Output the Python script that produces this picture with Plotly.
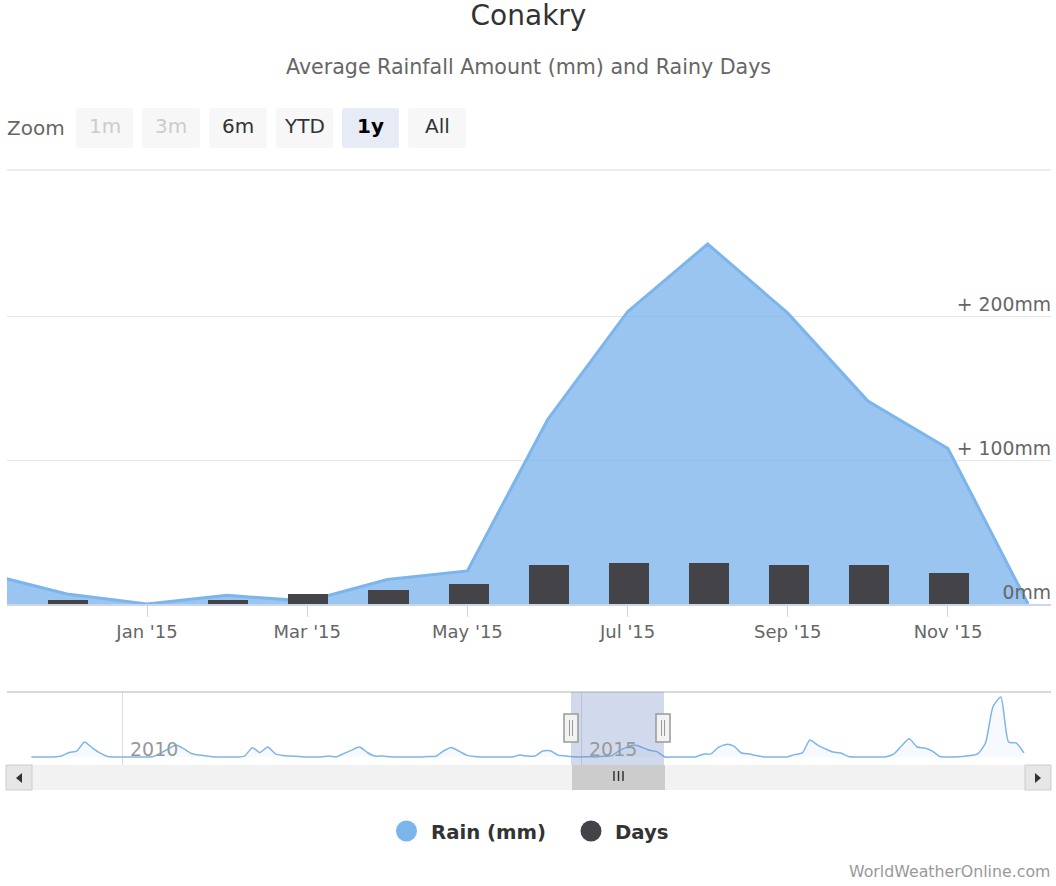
import plotly.graph_objects as go

# ---- data ----
months = ["Nov '14", "Dec '14", "Jan '15", "Feb '15", "Mar '15", "Apr '15", "May '15",
          "Jun '15", "Jul '15", "Aug '15", "Sep '15", "Oct '15", "Nov '15", "Dec '15"]
rain_mm = [21, 7, 0, 6, 2, 17, 23, 128, 203, 250, 202, 141, 108, 0]
rainy_days = [0, 2, 0, 2, 5, 7, 10, 19, 20, 20, 19, 19, 15, 0]
tick_months = ["Jan '15", "Mar '15", "May '15", "Jul '15", "Sep '15", "Nov '15"]
rain_ticks = [0, 100, 200]
rain_tick_labels = ["0mm", "+ 100mm", "+ 200mm"]

nav_2009 = [0, 0, 0, 0, 20, 95, 125, 315, 190, 85, 10, 0]
nav_2010 = [0, 0, 0, 0, 10, 85, 170, 250, 170, 75, 40, 20]
nav_2011 = [0, 0, 0, 0, 20, 195, 95, 210, 65, 30, 20, 10]
nav_2012 = [0, 0, 0, 20, 5, 75, 145, 210, 95, 20, 20, 5]
nav_2013 = [0, 0, 0, 0, 10, 15, 125, 200, 125, 40, 10, 0]
nav_2014 = [0, 0, 0, 0, 40, 20, 20, 125, 130, 40, 21, 7]
nav_2015 = [0, 6, 2, 17, 23, 128, 203, 250, 202, 141, 108, 0]
nav_2016 = [0, 0, 0, 0, 60, 65, 200, 265, 230, 85, 65, 30]
nav_2017 = [0, 0, 0, 0, 50, 85, 355, 250, 170, 105, 85, 10]
nav_2018 = [0, 0, 0, 0, 5, 65, 230, 385, 210, 190, 125, 10]
nav_2019 = [0, 0, 10, 30, 65, 295, 1060, 1260, 315, 295, 85]
nav_years = [2009, 2010, 2011, 2012, 2013, 2014, 2015, 2016, 2017, 2018, 2019]
nav_series = [nav_2009, nav_2010, nav_2011, nav_2012, nav_2013, nav_2014,
              nav_2015, nav_2016, nav_2017, nav_2018, nav_2019]
zoom_buttons = ["1m", "3m", "6m", "YTD", "1y", "All"]

W, H = 1056, 886
FONT = "DejaVu Sans"


def px(x):
    return x / W


def py(y):
    return 1 - y / H


nav_dates, nav_values = [], []
for yr, vals in zip(nav_years, nav_series):
    for m, v in enumerate(vals):
        nav_dates.append(f"{yr}-{m + 1:02d}-01")
        nav_values.append(v)

fig = go.Figure()
fig.add_trace(go.Scatter(
    x=months, y=rain_mm, mode="lines", name="Rain (mm)", fill="tozeroy",
    fillcolor="rgba(124,181,236,0.78)", line=dict(color="#7cb5ec", width=3),
    xaxis="x", yaxis="y", showlegend=False))
fig.add_trace(go.Bar(
    x=months, y=rainy_days, name="Days", marker=dict(color="#434348", line=dict(width=0)),
    width=0.5, offset=-0.235, xaxis="x", yaxis="y3", showlegend=False))
fig.add_trace(go.Scatter(
    x=nav_dates, y=nav_values, mode="lines", name="Rain navigator", fill="tozeroy",
    fillcolor="rgba(124,181,236,0.07)", line=dict(color="#7cb5ec", width=1.5, shape="spline", smoothing=0.6),
    xaxis="x2", yaxis="y2", showlegend=False))


def rrect(x0, y0, x1, y1, fill, r=3, line=None, lw=0):
    p = (f"M {px(x0 + r)} {py(y0)} L {px(x1 - r)} {py(y0)} Q {px(x1)} {py(y0)} {px(x1)} {py(y0 + r)} "
         f"L {px(x1)} {py(y1 - r)} Q {px(x1)} {py(y1)} {px(x1 - r)} {py(y1)} "
         f"L {px(x0 + r)} {py(y1)} Q {px(x0)} {py(y1)} {px(x0)} {py(y1 - r)} "
         f"L {px(x0)} {py(y0 + r)} Q {px(x0)} {py(y0)} {px(x0 + r)} {py(y0)} Z")
    return dict(type="path", path=p, xref="paper", yref="paper", fillcolor=fill, layer="above",
                line=dict(color=line or fill, width=lw))


def rect(x0, y0, x1, y1, fill, line=None, lw=0, layer="above"):
    return dict(type="rect", xref="paper", yref="paper", x0=px(x0), x1=px(x1), y0=py(y1), y1=py(y0),
                fillcolor=fill, layer=layer, line=dict(color=line or fill, width=lw))


def seg(x0, y0, x1, y1, color, w=1):
    return dict(type="line", xref="paper", yref="paper", x0=px(x0), x1=px(x1), y0=py(y0), y1=py(y1),
                layer="above", line=dict(color=color, width=w))


def tri(pts, color):
    p = "M " + " L ".join(f"{px(a)} {py(b)}" for a, b in pts) + " Z"
    return dict(type="path", path=p, xref="paper", yref="paper", fillcolor=color,
                layer="above", line=dict(color=color, width=0))


def text(x, y, s, size, color, anchor="left", bold=False):
    return dict(x=px(x), y=py(y), xref="paper", yref="paper", text=s, showarrow=False,
                xanchor=anchor, yanchor="middle", xshift=0, borderpad=0,
                font=dict(family=FONT, size=size, color=color, weight="bold" if bold else "normal"))


shapes = []
annots = []

# subtitle, range selector
annots.append(text(528.5, 67, "Average Rainfall Amount (mm) and Rainy Days", 20.6, "#666666", "center"))
annots.append(text(6, 128, "Zoom", 20, "#666666"))
btn_x = [(76, 133), (142, 200), (209, 267), (276, 333), (342, 399), (408, 466)]
for (a, b), lab in zip(btn_x, zoom_buttons):
    sel = lab == "1y"
    dis = lab in ("1m", "3m")
    shapes.append(rrect(a, 108, b, 148, "#e6ebf5" if sel else "#f7f7f7"))
    annots.append(text((a + b) / 2, 126, lab, 20, "#cccccc" if dis else ("#000000" if sel else "#333333"),
                       "center", bold=sel))

# top rule of plot and navigator
shapes.append(seg(7, 170, 1051, 170, "#e6e6e6", 1.5))
shapes.append(seg(7, 692, 1051, 692, "#cccccc", 1.5))

# navigator selection
shapes.append(rect(571, 692, 664, 765, "rgba(102,133,194,0.3)"))
# scrollbar
shapes.append(rect(32, 765, 1025, 790, "#f2f2f2"))
shapes.append(rect(572, 765, 665, 790, "#cccccc"))
for xx in (614, 618.5, 623):
    shapes.append(seg(xx, 771, xx, 781, "#333333", 1.5))
shapes.append(rect(6, 765, 32, 790, "#e6e6e6", "#cccccc", 1))
shapes.append(rect(1025, 765, 1051, 790, "#e6e6e6", "#cccccc", 1))
shapes.append(tri([(22, 773), (22, 783), (16, 778)], "#333333"))
shapes.append(tri([(1035, 773), (1035, 783), (1041, 778)], "#333333"))
# navigator handles
for c in (571, 663):
    shapes.append(rect(c - 7, 714, c + 7, 742, "#f2f2f2", "#999999", 1.5))
    shapes.append(seg(c - 1.5, 720, c - 1.5, 736, "#999999", 1))
    shapes.append(seg(c + 1.5, 720, c + 1.5, 736, "#999999", 1))

# navigator year labels
for yr, xx in (("2010", 129), ("2015", 588)):
    annots.append(text(xx, 749, yr, 19, "#999999"))

# legend
for cx, color, lab, tx in ((406.5, "#7cb5ec", "Rain (mm)", 429.5), (591, "#434348", "Days", 614)):
    shapes.append(dict(type="circle", xref="paper", yref="paper", x0=px(cx - 10.5), x1=px(cx + 10.5),
                       y0=py(841.5), y1=py(820.5), fillcolor=color, line=dict(width=0), layer="above"))
    annots.append(text(tx, 832, lab, 19.7, "#333333", bold=True))

annots.append(text(1051.5, 871, "WorldWeatherOnline.com", 15.8, "#999999", "right"))

fig.update_layout(
    width=W, height=H, autosize=False,
    margin=dict(l=0, r=0, t=0, b=0),
    paper_bgcolor="white", plot_bgcolor="white", showlegend=False, bargap=0,
    font=dict(family=FONT, color="#666666"),
    title=dict(text="Conakry", x=528.5 / W, xanchor="center", xref="paper", y=py(15), yref="container",
               yanchor="middle", font=dict(family=FONT, size=28, color="#333333")),
    xaxis=dict(domain=[px(7), px(1051)], type="category", categoryorder="array", categoryarray=months,
               range=[0.252, 13.286], tickmode="array", tickvals=tick_months, ticktext=tick_months,
               ticks="outside", ticklen=11, tickwidth=1, tickcolor="#ccd6eb", showline=True,
               linecolor="#ccd6eb", linewidth=1.5, showgrid=False, zeroline=False,
               tickfont=dict(size=18, color="#666666"), anchor="y"),
    yaxis=dict(domain=[py(604), py(170)], range=[0, 301.4], side="right", tickmode="array",
               tickvals=rain_ticks, ticktext=rain_tick_labels, ticklabelposition="inside top",
               ticklabelshift=2, ticklabelstandoff=-3,
               showgrid=True, gridcolor="#e6e6e6", gridwidth=1.2, zeroline=False, showline=False,
               ticks="", tickfont=dict(size=18.8, color="#666666"), anchor="x"),
    yaxis3=dict(domain=[py(604), py(170)], range=[0, 211.7], overlaying="y", visible=False, anchor="x"),
    xaxis2=dict(domain=[px(7), px(1051)], type="date", range=["2008-09-26", "2020-02-17"], tickmode="array",
                tickvals=["2010-01-01", "2015-01-01"], showticklabels=False, ticks="", showgrid=True,
                gridcolor="#dddddd", gridwidth=1, zeroline=False, showline=False, anchor="y2"),
    yaxis2=dict(domain=[py(765), py(692)], range=[-168, 1365], visible=False, anchor="x2"),
    shapes=shapes, annotations=annots,
)

fig.write_html("out.html", config={"displayModeBar": False}, post_script="document.body.style.margin='0';")
